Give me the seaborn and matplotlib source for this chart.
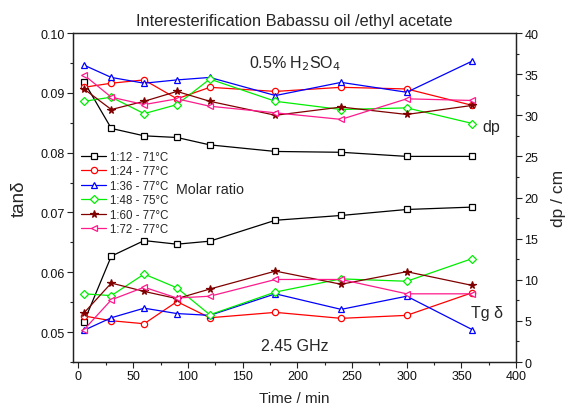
import matplotlib
matplotlib.use("Agg")
import matplotlib.pyplot as plt
import seaborn as sns
import numpy as np
import pandas as pd
from matplotlib.ticker import MultipleLocator

# Sampling times (min)
time_min = [5, 30, 60, 90, 120, 180, 240, 300, 360]

labels = ["1:12 - 71°C", "1:24 - 77°C", "1:36 - 77°C",
          "1:48 - 75°C", "1:60 - 77°C", "1:72 - 77°C"]

# Penetration depth dp (cm), right axis
dp_12 = [34.1, 28.4, 27.5, 27.3, 26.4, 25.6, 25.5, 25.0, 25.0]
dp_24 = [33.4, 33.9, 34.3, 32.0, 33.4, 32.9, 33.4, 33.2, 31.2]
dp_36 = [36.1, 34.6, 33.9, 34.3, 34.6, 32.4, 34.0, 32.8, 36.6]
dp_48 = [31.7, 32.2, 30.2, 31.3, 34.4, 31.7, 30.7, 30.9, 29.0]
dp_60 = [33.2, 30.7, 31.7, 32.9, 31.7, 30.0, 31.0, 30.1, 31.2]
dp_72 = [34.9, 32.2, 31.3, 32.0, 31.1, 30.3, 29.5, 32.0, 31.8]

# Loss tangent tan(delta), left axis
tan_12 = [0.0517, 0.0627, 0.0653, 0.0647, 0.0652, 0.0687, 0.0695, 0.0705, 0.0709]
tan_24 = [0.0527, 0.0519, 0.0514, 0.0551, 0.0524, 0.0533, 0.0523, 0.0528, 0.0566]
tan_36 = [0.0503, 0.0524, 0.0540, 0.0531, 0.0528, 0.0564, 0.0538, 0.0560, 0.0504]
tan_48 = [0.0564, 0.0561, 0.0597, 0.0574, 0.0529, 0.0567, 0.0589, 0.0585, 0.0623]
tan_60 = [0.0532, 0.0582, 0.0568, 0.0556, 0.0572, 0.0602, 0.0580, 0.0601, 0.0578]
tan_72 = [0.0504, 0.0554, 0.0575, 0.0557, 0.0560, 0.0588, 0.0588, 0.0564, 0.0564]

dp_series = [dp_12, dp_24, dp_36, dp_48, dp_60, dp_72]
tan_series = [tan_12, tan_24, tan_36, tan_48, tan_60, tan_72]

colors = ["#000000", "#ff0000", "#0000ff", "#00ee00", "#800000", "#ff1a8c"]
markers = ["s", "o", "^", "D", "*", "<"]
msizes = [4, 4.5, 5, 4, 5.5, 5]
filled = [False, False, False, False, True, False]

sns.set_theme(style="ticks")
plt.rcParams["font.family"] = ["Liberation Sans", "DejaVu Sans"]
plt.rcParams["xtick.direction"] = "out"
plt.rcParams["ytick.direction"] = "out"
plt.rcParams["xtick.color"] = "#222222"
plt.rcParams["ytick.color"] = "#222222"

fig = plt.figure(figsize=(5.66, 4.10), dpi=100)
ax = fig.add_axes([0.129, 0.1146, 0.783, 0.8024])
ax2 = ax.twinx()

handles = []
for i in range(6):
    mfc = colors[i] if filled[i] else "white"
    kw = dict(color=colors[i], marker=markers[i], markersize=msizes[i],
              markerfacecolor=mfc, markeredgecolor=colors[i],
              markeredgewidth=0.9, linewidth=0.9)
    df_t = pd.DataFrame({"t": time_min, "v": tan_series[i]})
    df_d = pd.DataFrame({"t": time_min, "v": dp_series[i]})
    sns.lineplot(data=df_t, x="t", y="v", ax=ax, **kw)
    sns.lineplot(data=df_d, x="t", y="v", ax=ax2, **kw)
    handles.append(ax2.lines[-1])

ax.set_xlim(-5, 400)
ax.set_ylim(0.045, 0.10)
ax2.set_ylim(0, 40)

ax.xaxis.set_major_locator(MultipleLocator(50))
ax.xaxis.set_minor_locator(MultipleLocator(25))
ax.yaxis.set_major_locator(MultipleLocator(0.01))
ax.yaxis.set_minor_locator(MultipleLocator(0.005))
ax2.yaxis.set_major_locator(MultipleLocator(5))
ax2.yaxis.set_minor_locator(MultipleLocator(2.5))
ax.yaxis.set_major_formatter(matplotlib.ticker.FormatStrFormatter("%.2f"))

for a in (ax, ax2):
    a.tick_params(which="major", length=4, width=0.8, labelsize=9, pad=2,
                  labelcolor="#111111")
    a.tick_params(which="minor", length=2.5, width=0.8)
    for s in a.spines.values():
        s.set_linewidth(0.9)
        s.set_color("#222222")
ax.tick_params(axis="x", which="both", top=False)

ax.set_xlabel("Time / min", fontsize=11, labelpad=6)
ax.set_ylabel("tanδ", fontsize=13.5, labelpad=9)
ax2.set_ylabel("dp / cm", fontsize=12.5, labelpad=9)

ax.set_title("Interesterification Babassu oil /ethyl acetate", fontsize=11.8, pad=6)

ax2.text(0.5, 0.91, "0.5% H$_2$SO$_4$", transform=ax2.transAxes,
         ha="center", va="center", fontsize=11.5)
ax2.text(0.5, 0.05, "2.45 GHz", transform=ax2.transAxes,
         ha="center", va="center", fontsize=11.5)
ax2.text(0.31, 0.525, "Molar ratio", transform=ax2.transAxes,
         ha="center", va="center", fontsize=10.3)
ax2.text(0.964, 0.715, "dp", transform=ax2.transAxes,
         ha="right", va="center", fontsize=11.5)
ax2.text(0.971, 0.15, "Tg δ", transform=ax2.transAxes,
         ha="right", va="center", fontsize=11.5)

leg = ax2.legend(handles, labels, loc="upper left",
                 bbox_to_anchor=(0.0, 0.667), frameon=False, fontsize=8.3,
                 handlelength=2.2, handletextpad=0.3, labelspacing=0.22,
                 borderaxespad=0.3)

fig.savefig("out.png", dpi=100)
